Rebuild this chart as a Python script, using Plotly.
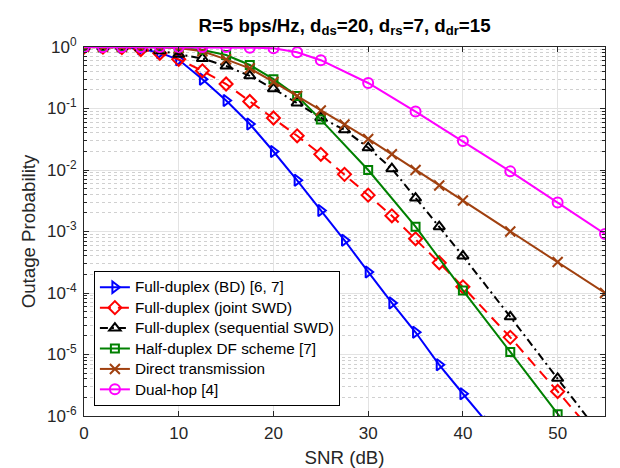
import plotly.graph_objects as go

# ---------------- data ----------------
snr_bd = [0, 2, 4, 6, 8, 10, 12.5, 15, 17.5, 20, 22.5, 25, 27.5, 30, 32.5, 35, 37.5, 40, 42.5]
p_bd = [1, 1, 0.99, 0.93, 0.81, 0.62, 0.30, 0.135, 0.056, 0.020, 6.8e-3, 2.2e-3, 7.2e-4,
        2.2e-4, 6.9e-5, 2.3e-5, 6.8e-6, 2.3e-6, 8e-7]

snr_joint = [0, 2, 4, 6, 8, 10, 12.5, 15, 17.5, 20, 22.5, 25, 27.5, 30, 32.5, 35, 37.5, 40, 45, 50, 55]
p_joint = [1, 1, 0.98, 0.91, 0.79, 0.63, 0.41, 0.25, 0.13, 0.07, 0.036, 0.018, 8.5e-3,
           3.9e-3, 1.8e-3, 7.6e-4, 3.1e-4, 1.26e-4, 1.9e-5, 2.5e-6, 3.2e-7]

snr_seq = [0, 2, 4, 6, 8, 10, 12.5, 15, 17.5, 20, 22.5, 25, 27.5, 30, 32.5, 35, 37.5, 40, 45, 50, 55]
p_seq = [1, 1, 1, 0.95, 0.87, 0.76, 0.65, 0.49, 0.34, 0.21, 0.123, 0.071, 0.045,
         0.023, 0.0105, 3.5e-3, 1.2e-3, 4.0e-4, 4.1e-5, 4.1e-6, 4e-7]

snr_hd = [0, 2, 4, 6, 8, 10, 12.5, 15, 17.5, 20, 22.5, 25, 30, 35, 40, 45, 50, 55]
p_hd = [1, 1, 1, 1, 0.99, 0.97, 0.89, 0.74, 0.51, 0.30, 0.16, 0.066, 0.010,
        1.2e-3, 1.1e-4, 1.1e-5, 1.07e-6, 1.07e-7]

snr_direct = [0, 2, 4, 6, 8, 10, 12.5, 15, 17.5, 20, 22.5, 25, 27.5, 30, 32.5, 35, 37.5, 40, 45, 50, 55]
p_direct = [1, 1, 1, 1, 0.99, 0.96, 0.85, 0.63, 0.45, 0.27, 0.16, 0.093, 0.055,
            0.032, 0.018, 0.010, 5.6e-3, 3.2e-3, 1.0e-3, 3.2e-4, 1.0e-4]

snr_dual = [0, 2, 4, 6, 8, 10, 12.5, 15, 17.5, 20, 22.5, 25, 30, 35, 40, 45, 50, 55]
p_dual = [1, 1, 1, 1, 1, 1, 1, 1, 0.975, 0.955, 0.82, 0.61, 0.26, 0.089, 0.0295,
          0.0095, 0.00295, 0.00091]

names = ["Full-duplex (BD) [6, 7]", "Full-duplex (joint SWD)", "Full-duplex (sequential SWD)",
         "Half-duplex DF scheme [7]", "Direct transmission", "Dual-hop [4]"]

x_ticks = [0, 10, 20, 30, 40, 50]
y_tickvals = [1, 1e-1, 1e-2, 1e-3, 1e-4, 1e-5, 1e-6]
y_ticktext = ["10<sup>0</sup>", "10<sup>-1</sup>", "10<sup>-2</sup>", "10<sup>-3</sup>",
              "10<sup>-4</sup>", "10<sup>-5</sup>", "10<sup>-6</sup>"]

# ---------------- styles ----------------
series = [
    (snr_bd, p_bd, "#0000FF", "solid", "triangle-right-open"),
    (snr_joint, p_joint, "#FF0000", "11px,7px", "diamond-open"),
    (snr_seq, p_seq, "#000000", "8px,4px,2px,4px", "triangle-up-open"),
    (snr_hd, p_hd, "#008000", "solid", "square-open"),
    (snr_direct, p_direct, "#A0400F", "solid", "x-thin-open"),
    (snr_dual, p_dual, "#FF00FF", "solid", "circle-open"),
]
sizes = [10, 10, 10, 8, 10, 10]

FONT = "Liberation Sans, Arial, Helvetica, sans-serif"
AX = "#262626"
TICK = 17
LABEL = 18.7
LEG_TEXT = 15.3

fig = go.Figure()
for (x, y, c, d, sym), nm, sz in zip(series, names, sizes):
    fig.add_trace(go.Scatter(
        x=x, y=y, mode="lines+markers",
        name=f'<span style="font-size:{LEG_TEXT}px">{nm}</span>',
        line=dict(color=c, width=2, dash=d),
        marker=dict(symbol=sym, size=sz, color=c, line=dict(color=c, width=2)),
    ))

fig.update_layout(
    width=620, height=468,
    margin=dict(l=76, r=23, t=39, b=55),
    paper_bgcolor="white", plot_bgcolor="white",
    font=dict(family=FONT, size=TICK, color=AX),
    title=dict(text="<b>R=5 bps/Hz, d<sub>ds</sub>=20, d<sub>rs</sub>=7, d<sub>dr</sub>=15</b>",
               x=0.5, xref="paper", xanchor="center",
               y=1 - 17 / 468, yref="container", yanchor="middle",
               font=dict(family=FONT, size=LABEL, color="black")),
    legend=dict(x=0.019, y=0.027, xanchor="left", yanchor="bottom",
                bgcolor="white", bordercolor="black", borderwidth=1,
                font=dict(family=FONT, size=13.4, color="black"),
                tracegroupgap=0),
    showlegend=True,
)

fig.update_xaxes(
    range=[0, 55], tickvals=x_ticks, ticktext=[str(v) for v in x_ticks],
    showline=True, linecolor=AX, linewidth=1, mirror="ticks",
    ticks="inside", ticklen=5, tickcolor=AX, ticklabelstandoff=2,
    showgrid=True, gridcolor="#e3e3e3", gridwidth=1, zeroline=False,
    title=dict(text="SNR (dB)", font=dict(family=FONT, size=LABEL, color=AX), standoff=8),
    tickfont=dict(family=FONT, size=TICK, color=AX),
)
fig.update_yaxes(
    type="log", range=[-6, 0], tickvals=y_tickvals, ticktext=y_ticktext,
    showline=True, linecolor=AX, linewidth=1, mirror="ticks",
    ticks="inside", ticklen=5, tickcolor=AX, ticklabelstandoff=3,
    showgrid=True, gridcolor="#e3e3e3", gridwidth=1, zeroline=False,
    minor=dict(dtick="D1", showgrid=True, gridcolor="#d0d0d0", griddash="dot",
               ticks="inside", ticklen=3, tickcolor=AX),
    title=dict(text="Outage Probability", font=dict(family=FONT, size=LABEL, color=AX), standoff=6),
    tickfont=dict(family=FONT, size=TICK, color=AX),
)

fig.write_html("out.html")
